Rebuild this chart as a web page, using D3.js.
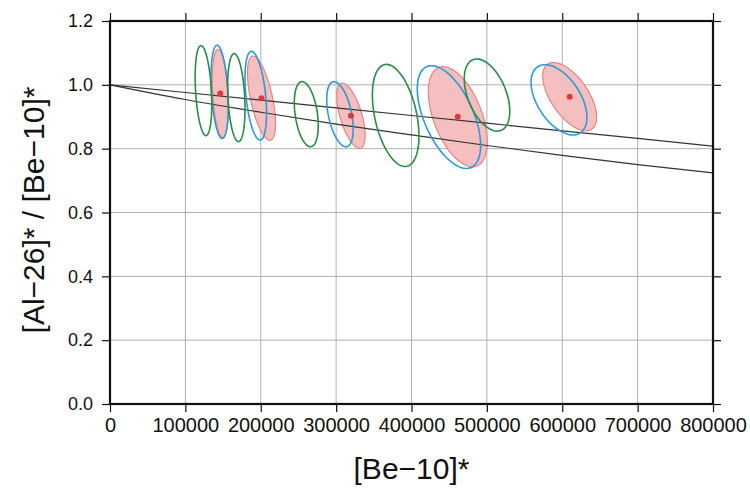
<!DOCTYPE html>
<html>
<head>
<meta charset="utf-8">
<script src="https://cdn.jsdelivr.net/npm/d3@7"></script>
<style>
  body { margin: 0; background: #fff; }
  svg { font-family: "Liberation Sans", Arial, sans-serif; }
</style>
</head>
<body>
<svg id="chart" width="750" height="491"></svg>
<script>
// error ellipses: [cx, cy, sx, sy, rho]  (data units)
const greenEllipses = [
  [124000, 0.982, 11000, 0.141, -0.3],
  [167600, 0.960, 11500, 0.138, -0.25],
  [260400, 0.908, 15900, 0.102, -0.35],
  [379000, 0.904, 30900, 0.160, -0.4],
  [500200, 0.968, 30200, 0.113, -0.45]
];
const blueEllipses = [
  [145500, 0.978, 11500, 0.146, -0.3],
  [193400, 0.966, 14300, 0.139, -0.4],
  [305100, 0.908, 17600, 0.102, -0.45],
  [449700, 0.899, 42000, 0.161, -0.55],
  [595700, 0.953, 37100, 0.110, -0.5]
];
const pinkEllipses = [
  [146300, 0.973, 10600, 0.138, -0.3],
  [201000, 0.958, 18600, 0.132, -0.6],
  [319700, 0.903, 18800, 0.102, -0.6],
  [461400, 0.900, 39100, 0.157, -0.5],
  [609900, 0.963, 35800, 0.107, -0.6]
];
// reference curves
const curveX = [0, 100000, 200000, 300000, 400000, 500000, 600000, 700000, 800000];
const upperY = [1.0, 0.976, 0.952, 0.928, 0.904, 0.880, 0.856, 0.832, 0.808];
const lowerY = [1.0, 0.954, 0.914, 0.877, 0.843, 0.810, 0.779, 0.750, 0.724];

const xTicks = [0, 100000, 200000, 300000, 400000, 500000, 600000, 700000, 800000];
const yTicks = [0.0, 0.2, 0.4, 0.6, 0.8, 1.0, 1.2];

const margin = {top: 21, right: 37, bottom: 87, left: 110};
const width = 750 - margin.left - margin.right,
      height = 491 - margin.top - margin.bottom;

const svg = d3.select("#chart");
const g = svg.append("g")
    .attr("transform", "translate(" + margin.left + "," + margin.top + ")");

const x = d3.scaleLinear().domain([0, 800000]).range([0, width]);
const y = d3.scaleLinear().domain([0, 1.2]).range([height, 0]);

// grid
g.append("g").selectAll("line").data(xTicks.slice(1, -1)).enter().append("line")
  .attr("x1", d => x(d)).attr("x2", d => x(d))
  .attr("y1", 0).attr("y2", height)
  .attr("stroke", "#b0b0b0").attr("stroke-width", 1);
g.append("g").selectAll("line").data(yTicks.slice(1, -1)).enter().append("line")
  .attr("y1", d => y(d)).attr("y2", d => y(d))
  .attr("x1", 0).attr("x2", width)
  .attr("stroke", "#b0b0b0").attr("stroke-width", 1);

// ellipse outline from covariance parameters
function ellipsePts(e) {
  const pts = [];
  const r = Math.sqrt(1 - e[4] * e[4]);
  for (let i = 0; i < 90; i++) {
    const t = i / 90 * 2 * Math.PI;
    pts.push([e[0] + e[2] * Math.cos(t), e[1] + e[3] * (e[4] * Math.cos(t) + r * Math.sin(t))]);
  }
  return pts;
}
const ell = d3.line().x(d => x(d[0])).y(d => y(d[1])).curve(d3.curveLinearClosed);

g.append("g").selectAll("path").data(pinkEllipses).enter().append("path")
  .attr("d", d => ell(ellipsePts(d)))
  .attr("fill", "#f5bfc0").attr("stroke", "#e58585").attr("stroke-width", 1.2);

// curves
const line = d3.line().x((d, i) => x(curveX[i])).y(d => y(d)).curve(d3.curveMonotoneX);
g.append("path").datum(upperY).attr("d", line)
  .attr("fill", "none").attr("stroke", "#333").attr("stroke-width", 1.2);
g.append("path").datum(lowerY).attr("d", line)
  .attr("fill", "none").attr("stroke", "#333").attr("stroke-width", 1.2);

g.append("g").selectAll("path").data(blueEllipses).enter().append("path")
  .attr("d", d => ell(ellipsePts(d)))
  .attr("fill", "none").attr("stroke", "#2c9ad6").attr("stroke-width", 1.6);
g.append("g").selectAll("path").data(greenEllipses).enter().append("path")
  .attr("d", d => ell(ellipsePts(d)))
  .attr("fill", "none").attr("stroke", "#2a8c46").attr("stroke-width", 1.6);

g.append("g").selectAll("circle").data(pinkEllipses).enter().append("circle")
  .attr("cx", d => x(d[0])).attr("cy", d => y(d[1])).attr("r", 3)
  .attr("fill", "#e2383a");

// axes
const xAxis = d3.axisBottom(x).tickValues(xTicks).tickFormat(d3.format("d")).tickSize(8).tickPadding(6);
const yAxis = d3.axisLeft(y).tickValues(yTicks).tickFormat(d3.format(".1f")).tickSize(8).tickPadding(9);

const xa = g.append("g").attr("transform", "translate(0," + height + ")").call(xAxis);
xa.selectAll("text").style("font-size", "20px").attr("fill", "#111");
const ya = g.append("g").call(yAxis);
ya.selectAll("text").style("font-size", "18px").attr("fill", "#111");
g.append("g").call(d3.axisTop(x).tickValues(xTicks).tickSize(8).tickFormat(""));
g.append("g").attr("transform", "translate(" + width + ",0)")
  .call(d3.axisRight(y).tickValues(yTicks).tickSize(8).tickFormat(""));
g.selectAll(".domain").remove();
g.selectAll(".tick line").attr("stroke", "#111").attr("stroke-width", 1.2);

g.append("rect").attr("width", width).attr("height", height)
  .attr("fill", "none").attr("stroke", "#111").attr("stroke-width", 2.2);

// titles
svg.append("text")
  .attr("x", margin.left + width / 2).attr("y", 479)
  .attr("text-anchor", "middle")
  .style("font-size", "30px").attr("fill", "#111")
  .text("[Be\u221210]*");
svg.append("text")
  .attr("transform", "translate(44," + 210 + ") rotate(-90)")
  .attr("text-anchor", "middle")
  .style("font-size", "30px").attr("fill", "#111")
  .text("[Al\u221226]* / [Be\u221210]*");
</script>
</body>
</html>
